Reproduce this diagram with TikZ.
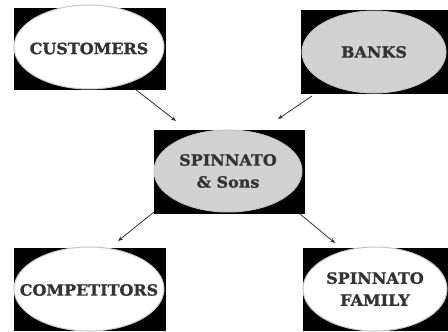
\documentclass[tikz,border=0pt]{standalone}
\usepackage{fontspec}
\newfontfamily\lblfont[FakeStretch=1.03,FakeBold=1.2]{DejaVu Serif}
\usetikzlibrary{shapes.geometric,arrows.meta}
\definecolor{inkgray}{HTML}{333333}
\definecolor{ovalgray}{HTML}{D2D2D2}
\tikzset{
  frame/.style={fill=black, draw=none},
  oval/.style={ellipse, draw=gray!45, line width=1pt, inner sep=0pt},
  light/.style={oval, fill=white},
  dark/.style={oval, fill=ovalgray},
  caption/.style={font=\lblfont\bfseries\fontsize{15.5}{22}\selectfont,
    text=inkgray, align=center, inner sep=0pt},
  link/.style={draw=inkgray, line width=0.8pt, -{Stealth[length=5pt,width=4pt]}}
}
\begin{document}
\begin{tikzpicture}[x=1pt,y=-1pt]
\useasboundingbox (0,0) rectangle (448,332);
\fill[white] (0,0) rectangle (448,332);

% black backing frames
\fill[frame] (14,8) rectangle (166,90);
\fill[frame] (301,10) rectangle (448,94);
\fill[frame] (154,130) rectangle (305,214);
\fill[frame] (14,248) rectangle (166,331);
\fill[frame] (303,248) rectangle (448,331);

% ovals
\node[light, minimum width=150pt, minimum height=84pt] (cust) at (89,47) {};
\node[dark,  minimum width=144pt, minimum height=82pt] (bank) at (374,52) {};
\node[dark,  minimum width=148pt, minimum height=82pt] (firm) at (228,171) {};
\node[light, minimum width=150pt, minimum height=84pt] (comp) at (89,289) {};
\node[light, minimum width=144pt, minimum height=84pt] (fam)  at (375,289) {};

% oval captions
\node[caption, yshift=-1.5pt] (custtxt) at (cust) {CUSTOMERS};
\node[caption] (banktxt) at (bank) {BANKS};
\node[caption] (firmtxt) at (firm) {SPINNATO\\\& Sons};
\node[caption, yshift=-1pt] (comptxt) at (comp) {COMPETITORS};
\node[caption] (famtxt)  at (fam)  {SPINNATO\\FAMILY};

% connector ends
\coordinate (c1) at (135,89);  \coordinate (c2) at (176,121);
\coordinate (b1) at (312,96);  \coordinate (b2) at (278,119);
\coordinate (d1) at (154,212); \coordinate (d2) at (118,241);
\coordinate (e1) at (300,214); \coordinate (e2) at (335,243);

\draw[link] (c1) -- (c2);
\draw[link] (b1) -- (b2);
\draw[link] (d1) -- (d2);
\draw[link] (e1) -- (e2);
\end{tikzpicture}
\end{document}
